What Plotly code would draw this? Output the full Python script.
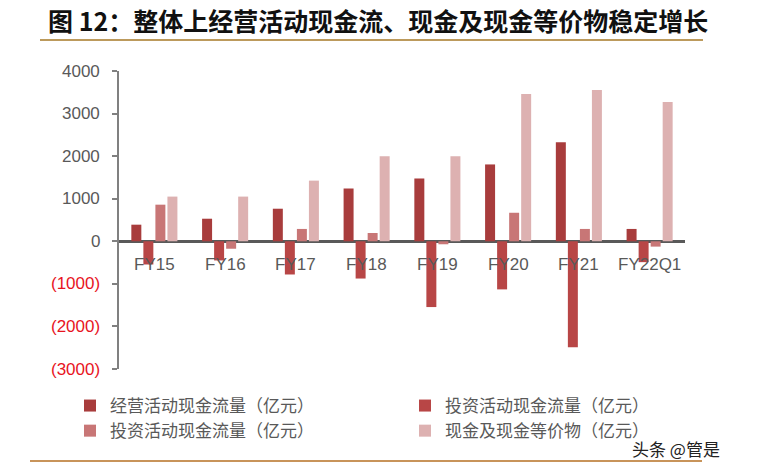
import plotly.graph_objects as go

categories = ["FY15", "FY16", "FY17", "FY18", "FY19", "FY20", "FY21", "FY22Q1"]
s1_name = "经营活动现金流量（亿元）"
s2_name = "投资活动现金流量（亿元）"
s3_name = "投资活动现金流量（亿元）"
s4_name = "现金及现金等价物（亿元）"
s1_values = [390, 530, 765, 1240, 1475, 1805, 2325, 290]
s2_values = [-545, -450, -780, -875, -1545, -1130, -2490, -490]
s3_values = [860, -175, 290, 195, -70, 670, 290, -125]
s4_values = [1050, 1050, 1425, 1995, 1995, 3460, 3555, 3270]
tick_vals = [4000, 3000, 2000, 1000, 0, -1000, -2000, -3000]
tick_text = ["4000", "3000", "2000", "1000", "0", "(1000)", "(2000)", "(3000)"]

colors = ["#A83C3C", "#B84646", "#C87676", "#DDB1B1"]
font_cn = "Noto Sans CJK SC, Arial, sans-serif"

L, R, T, B = 119, 73, 71, 97
W, H = 758, 466
pw, ph = W - L - R, H - T - B

def px_to_paper_x(px):
    return (px - L) / pw

def px_to_paper_y(py):
    return (H - B - py) / ph

fig = go.Figure()
for name, vals, c in [(s1_name, s1_values, colors[0]), (s2_name, s2_values, colors[1]),
                      (s3_name, s3_values, colors[2]), (s4_name, s4_values, colors[3])]:
    fig.add_trace(go.Bar(x=categories, y=vals, name=name, marker=dict(color=c, line=dict(width=0))))

# x labels just below the zero line
for cat in categories:
    fig.add_annotation(x=cat, y=0, xref="x", yref="y", text=cat, showarrow=False,
                       yanchor="top", yshift=-12, font=dict(family="Arial, Liberation Sans", size=17, color="#595959"))

# y tick labels with red negatives
for v, t in zip(tick_vals, tick_text):
    fig.add_annotation(x=0, xref="paper", y=v, yref="y", text=t, showarrow=False,
                       xanchor="right", xshift=-17,
                       font=dict(family="Arial, Liberation Sans", size=17,
                                 color="#E8141E" if v < 0 else "#595959"))

# title
fig.add_annotation(x=px_to_paper_x(46), xref="paper", y=px_to_paper_y(20), yref="paper",
                   text="<b>图 12：整体上经营活动现金流、现金及现金等价物稳定增长</b>",
                   showarrow=False, xanchor="left", yanchor="middle",
                   font=dict(family=font_cn, size=25, color="#111111"))
# watermark
fig.add_annotation(x=px_to_paper_x(722), xref="paper", y=px_to_paper_y(448), yref="paper", text="头条 @管是",
                   showarrow=False, xanchor="right", yanchor="middle",
                   font=dict(family=font_cn, size=17, color="#222222"))

fig.add_shape(type="line", xref="paper", yref="paper", x0=px_to_paper_x(40), x1=px_to_paper_x(703),
              y0=px_to_paper_y(40), y1=px_to_paper_y(40), line=dict(color="#BC9A5C", width=2))
fig.add_shape(type="line", xref="paper", yref="paper", x0=px_to_paper_x(30), x1=px_to_paper_x(702),
              y0=px_to_paper_y(461), y1=px_to_paper_y(461), line=dict(color="#C8945A", width=2))

fig.update_layout(
    width=W, height=H,
    margin=dict(l=L, r=R, t=T, b=B, pad=0, autoexpand=False),
    paper_bgcolor="white", plot_bgcolor="white",
    barmode="group", bargap=0.32, bargroupgap=0.17,
    showlegend=True,
    legend=dict(orientation="h", x=px_to_paper_x(70), y=px_to_paper_y(388), xanchor="left", yanchor="top",
                entrywidth=290, entrywidthmode="pixels", itemwidth=30, tracegroupgap=0,
                font=dict(family=font_cn, size=17, color="#595959"), bgcolor="rgba(0,0,0,0)"),
    xaxis=dict(showticklabels=False, showline=False, ticks="", showgrid=False, zeroline=False),
    yaxis=dict(range=[-3000, 4000], tickvals=tick_vals, showticklabels=False, ticks="outside", ticklen=5,
               tickcolor="#808080", tickwidth=1.5, showline=True, linecolor="#808080", linewidth=2,
               showgrid=False, zeroline=True, zerolinecolor="#595959", zerolinewidth=2.5),
)

fig.write_html("out.html", config={"displayModeBar": False},
               post_script="document.body.style.margin='0';document.body.style.overflow='hidden';")
